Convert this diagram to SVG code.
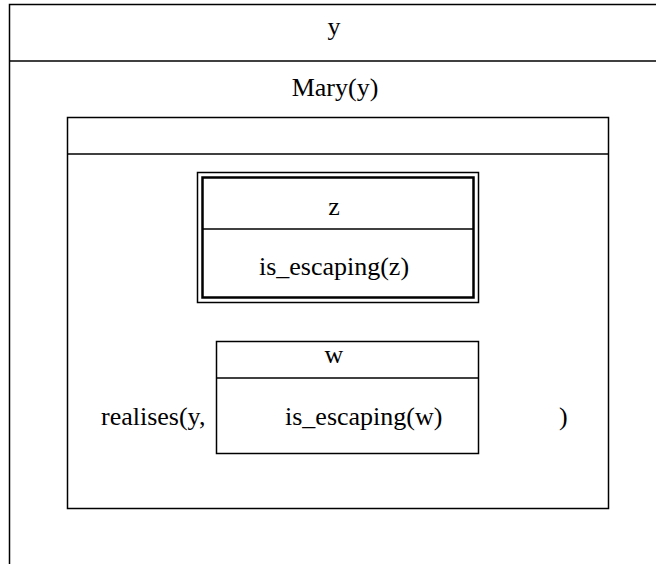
<svg xmlns="http://www.w3.org/2000/svg" width="656" height="564" viewBox="0 0 656 564">
<style>
.b{fill:none;stroke:#000;stroke-width:1.5}
.t{font-family:"Liberation Serif","Times New Roman",serif;font-size:26px;fill:#000}
.c{text-anchor:middle}
</style>
<rect width="656" height="564" fill="#fff"/>
<g id="outer">
<rect class="b" x="9.5" y="4.5" width="700" height="620"/>
<line class="b" x1="9.5" y1="61" x2="656" y2="61"/>
<text class="t c" x="334" y="35">y</text>
<text class="t c" x="335" y="96">Mary(y)</text>
</g>
<g id="inner">
<rect class="b" x="67.5" y="117.5" width="541" height="391"/>
<line class="b" x1="67.5" y1="154" x2="608.5" y2="154"/>
</g>
<g id="zbox">
<rect class="b" x="197.5" y="172.5" width="281" height="130"/>
<rect x="202.5" y="177.5" width="271" height="120" fill="none" stroke="#000" stroke-width="2.5"/>
<line class="b" x1="202.5" y1="229" x2="473.5" y2="229"/>
<text class="t c" x="334" y="215">z</text>
<text class="t c" x="334" y="275">is_escaping(z)</text>
</g>
<g id="wbox">
<rect class="b" x="216.5" y="341.5" width="262" height="112"/>
<line class="b" x1="216.5" y1="378" x2="478.5" y2="378"/>
<text class="t c" x="334" y="363">w</text>
<text class="t" x="285" y="425">is_escaping(w)</text>
</g>
<g id="pred">
<text class="t" x="101" y="425">realises(y,</text>
<text class="t" x="559" y="425">)</text>
</g>
<g id="connectors"/>
</svg>
